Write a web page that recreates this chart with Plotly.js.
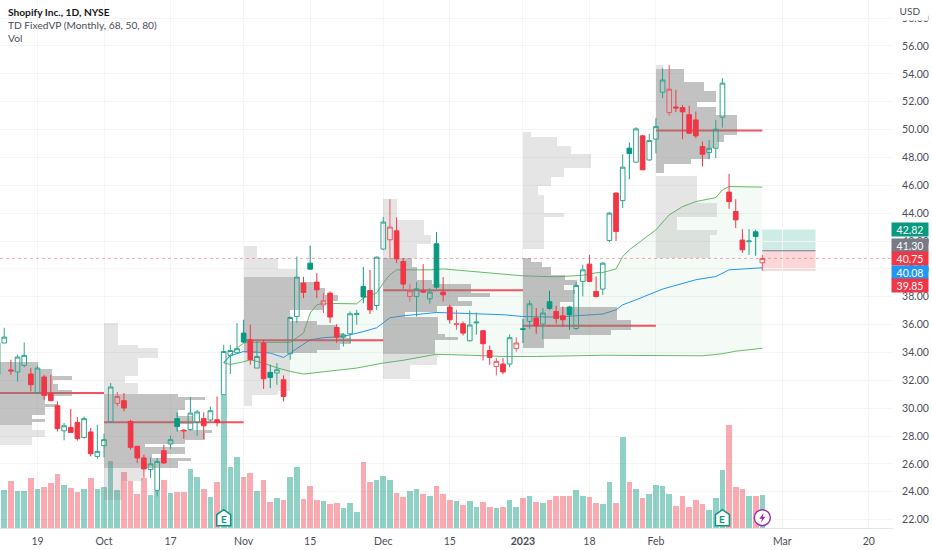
<!DOCTYPE html>
<html><head><meta charset="utf-8">
<script src="https://cdn.plot.ly/plotly-3.0.1.min.js"></script>
<style>html,body{margin:0;padding:0;background:#fff}#c{width:932px;height:550px}</style>
</head><body><div id="c"></div>
<script>
// Daily bars, first bar is six sessions before Sep 19 (bar number 0)
const firstBar = -6;
const open = [32.4,34.68,32.74,32.6,33.07,32.45,
31.09,32.24,31.04,30.18,28.38,28.62,28.98,27.9,28.29,26.54,
27.31,29.01,30.34,30.54,29.05,27.26,26.43,25.59,24.1,26.95,
27.43,29.25,28.42,28.46,28.98,29.25,29.15,29.17,30.97,33.79,
33.98,35.39,34.91,32.88,34.68,32.57,32.52,32.04,33.91,36.58,
38.98,40.41,39.05,37.42,38.26,35.79,35.1,35.34,36.72,38.74,
38.45,37.37,41.42,42.09,42.73,40.53,38.02,38.02,38.42,37.85,
41.8,38.33,37.26,36.0,36.06,34.84,36.12,35.56,34.14,33.0,
33.17,33.17,34.29,35.7,36.23,36.47,36.04,37.64,36.94,36.63,
37.26,35.72,39.1,40.34,38.38,38.55,42.04,45.44,44.9,48.66,
47.66,49.55,47.82,49.31,52.68,51.22,51.62,51.58,51.07,50.69,
48.78,48.35,48.66,50.89,45.51,44.12,42.07,41.95,42.66,40.44];
const high = [34.9,35.77,33.48,33.84,34.72,32.88,
33.05,32.4,32.4,30.49,28.94,29.94,29.37,29.41,28.58,28.81,
28.17,31.81,31.16,31.09,29.17,27.3,26.66,26.47,26.43,27.38,
28.03,29.7,28.5,30.8,29.89,29.7,30.13,30.84,34.55,34.55,
36.11,36.35,35.99,34.84,34.91,33.12,33.24,32.35,36.6,40.89,
39.43,41.68,39.7,38.26,38.38,36.04,35.39,36.94,37.06,40.13,
39.93,40.89,43.72,45.0,43.69,40.77,38.91,39.05,40.34,38.62,
42.64,39.41,37.42,37.06,36.22,37.01,36.87,35.6,34.5,33.6,
33.6,35.3,35.08,36.4,37.73,37.19,37.19,38.43,37.35,37.3,
37.35,39.05,40.29,41.01,39.45,40.48,44.07,45.5,48.23,49.07,
50.17,49.62,49.69,50.82,54.4,54.64,52.85,51.77,51.7,51.29,
49.14,49.26,50.69,53.69,46.82,45.0,42.85,42.85,42.82,41.0];
const low = [32.2,34.68,32.4,31.92,32.93,31.2,
31.09,30.6,30.49,28.33,27.69,28.22,27.67,27.81,26.54,26.38,
26.47,29.01,30.13,29.77,27.02,26.07,25.01,25.0,23.67,26.0,
27.07,28.33,27.79,28.38,28.03,27.79,29.05,28.69,30.97,32.45,
33.98,34.68,33.12,32.88,31.38,31.44,31.68,30.49,33.48,36.11,
37.9,39.93,37.9,36.83,36.11,34.68,34.43,34.68,35.99,37.54,
36.76,37.06,41.37,40.8,40.41,38.57,37.66,36.58,38.26,37.49,
38.57,37.66,36.06,35.63,35.22,34.79,35.27,33.43,33.12,32.35,
32.45,32.93,34.07,34.68,35.7,35.35,34.96,37.06,36.06,35.87,
35.63,35.6,38.02,39.05,37.95,38.14,41.92,42.0,44.36,46.44,
47.63,47.1,47.75,48.3,52.25,51.0,51.25,49.31,49.7,49.38,
47.34,47.87,47.95,50.14,44.31,42.93,41.15,41.01,40.94,39.86];
const close = [34.68,35.1,32.68,33.67,33.79,31.68,
32.88,30.92,30.54,28.53,28.74,28.26,27.81,29.25,26.73,26.9,
27.74,31.52,30.84,30.01,27.19,26.43,25.64,26.0,26.18,26.07,
27.74,28.69,28.38,29.65,29.73,28.74,29.82,28.98,34.07,34.14,
34.27,34.75,33.48,33.71,32.11,32.21,32.76,30.84,36.51,39.41,
38.31,39.98,38.5,37.71,36.54,35.1,35.27,36.78,36.8,37.98,
37.06,40.84,43.36,43.0,40.72,38.91,38.43,38.57,38.34,38.33,
38.69,38.14,36.35,36.06,35.39,35.97,36.18,34.63,33.64,33.36,
32.6,35.06,34.68,35.66,37.49,35.92,36.83,37.16,36.44,36.35,
36.71,38.81,39.93,39.1,38.02,40.41,44.0,42.68,47.3,48.28,
50.05,47.11,49.21,50.21,53.56,52.9,51.55,51.27,49.74,49.55,
48.23,48.66,50.03,53.33,44.83,43.52,41.37,42.0,42.32,40.75];
const candleTone = "GGRGGR"+"GRRRGRRGRG"+"GGRRRRRGGR"+"GGRGGRGRGG"+"GGRGRGGRGG"+"RGRRRRGGGG"+"RGGRRRRGRG"+"GRRRRGGRRR"+"RGRGGRGGRR"+"GGGRRGGRGG"+"GRGGGRRRRR"+"RGGGRRRGGR";
const volume = [190,115,142,110,110,151,
118,124,136,162,130,119,109,118,151,118,
124,200,114,169,142,103,151,99,112,143,
106,108,108,176,153,116,93,139,400,183,
214,154,164,112,144,79,89,85,154,183,
87,127,83,81,72,74,61,76,48,199,
137,145,157,145,106,93,112,118,102,95,
126,102,85,81,70,81,64,79,64,59,
64,85,64,91,95,79,76,85,97,96,
96,114,95,93,74,73,139,76,274,137,
116,91,103,129,127,103,66,97,64,83,
73,55,89,174,310,124,116,95,97,99];

// Anchored VWAP and bands: bar number and price
const upperBars = [28,29,30,31,32,38,40,41,42,43,48,49,51,52,53,54,59,61,73,78,82,84,85,87,88,89,91,93,95,97,99,102,103,104,109];
const upperBand = [33.26,33.84,34.32,34.68,34.73,34.73,35.39,36.83,37.42,37.53,37.49,37.9,38.28,38.98,39.58,39.93,39.93,40.0,39.5,39.43,39.54,39.72,39.74,40.0,40.89,41.37,42.09,42.8,43.88,44.47,44.83,45.12,45.67,45.91,45.87];
const lowerBars = [28,29,31,32,34,36,38,40,48,52,55,60,65,70,75,85,100,103,105,109];
const lowerBand = [33.26,33.14,33.33,33.48,33.23,32.9,32.64,32.45,32.88,33.24,33.44,33.87,33.8,33.71,33.71,33.8,33.76,33.91,34.09,34.3];
const vwapBars = [28,29,31,35,37,38,40,41,43,46,49,51,52,53,55,60,70,73,78,85,87,88,90,94,99,102,104,109];
const vwapLine = [33.24,33.76,34.07,33.96,33.64,33.96,34.55,34.91,35.06,35.15,35.5,35.77,36.13,36.49,36.63,36.87,36.71,36.58,36.54,36.76,37.06,37.42,37.78,38.55,39.22,39.45,39.93,40.08];

// Monthly volume profiles: row edges in price, row length in bars, D = value area, L = outside
const sepEdges = [33.31,32.81,32.28,31.99,31.76,31.28,30.90,30.32,30.08,29.53,29.22,28.98,28.76,28.46,27.90,27.33];
const sepLens = [11.0,13.2,16.2,13.4,14.1,16.2,12.2,14.0,12.2,10.2,12.2,10.2,10.2,12.2,10.2];
const sepTone = "DDDDDDDDDDDDLLL";
const octEdges = [36.11,34.55,34.32,33.60,32.28,31.81,31.04,30.80,30.56,29.84,29.41,28.89,28.46,28.22,27.74,27.45,27.19,26.71,26.43,26.18,25.71,24.75,23.43];
const octLens = [2.1,5.1,8.1,5.1,3.2,5.1,11.1,15.2,12.2,11.1,13.4,11.1,16.2,15.2,12.2,6.2,12.2,7.2,13.1,11.1,5.9,2.7];
const octTone = "LLLLLLDDDDDDDDDDDDDDLL";
const novEdges = [41.61,40.77,39.98,39.41,39.09,38.62,38.14,37.66,37.06,36.28,35.99,35.39,35.03,34.63,34.20,33.96,31.25,30.97,30.13];
const novLens = [2.0,5.1,8.0,8.5,11.0,12.2,14.2,11.9,7.0,11.0,14.0,14.9,16.1,14.5,11.0,7.0,5.2,1.2];
const novTone = "LLLDDDDDDDDDDDDLLL";
const decEdges = [45.03,43.52,42.44,41.78,40.77,40.17,39.22,38.93,38.26,37.98,37.66,37.37,36.94,36.58,35.34,35.08,34.86,33.91,33.64,33.12,32.11];
const decLens = [2.1,6.1,7.2,5.1,4.3,5.1,7.3,13.2,16.0,11.2,13.3,8.1,3.3,8.2,9.3,11.2,7.8,8.2,8.1,4.0];
const decTone = "LLLLDDDDDDDDDDDDDLLL";
const janEdges = [49.86,49.50,48.85,48.23,47.27,46.58,45.96,45.31,44.00,43.69,41.44,40.77,40.49,40.17,39.53,39.22,38.86,38.50,38.21,37.59,37.23,36.30,35.63,35.27,34.98,34.32];
const janLens = [1.2,5.1,7.2,10.2,6.2,4.2,2.2,3.2,6.2,3.2,0,1.2,2.8,4.2,6.3,8.1,6.2,7.8,7.5,5.6,14.1,16.2,13.2,7.1,3.2];
const janTone = "LLLLLLLLLLLDDDDDDDDDDDDDD";
const febEdges = [54.64,54.33,53.40,52.80,51.96,51.65,51.05,49.62,49.14,48.66,47.87,47.54,46.91,46.68,45.55,44.72,43.69,42.80,42.44,40.77];
const febLens = [1.1,4.2,7.2,9.1,6.2,9.1,12.2,10.2,9.2,8.2,5.2,1.2,0,6.1,6.2,9.2,3.1,9.2,8.2];
const febTone = "LDDDDDDDDDDDLLLLLLL";
const monthStarts = [-11,10,31,52,73,93];
const monthEnds = [10,31,52,73,93,109];
const pocPrices = [31.09,28.99,34.88,38.46,35.92,49.94];

// Axis labels
const xTickBars = [0,10,20,31,41,52,62,73,83,93,112,125];
const xTickText = ["19","Oct","17","Nov","15","Dec","15","<b>2023</b>","18","Feb","Mar","20"];
const priceTicks = [22,24,26,28,30,32,34,36,38,40,42,44,46,48,50,52,54,56,58];
const lastClose = 40.75;
const targetHigh = 42.82, targetMid = 41.30, targetLow = 39.85, vwapLast = 40.08;
const earningsBars = [28,103];
const dividendBar = 109;
const iconPrice = 22.14;

const GREEN="#089981", RED="#F23645", GREY="#787B86", BLUE="#2196F3";
const bars = open.map((_,i)=>i+firstBar);
const pick = (arr,t)=>arr.filter((_,i)=>candleTone[i]===t);
function candle(t, lineH, lineF, fill){
  return {type:'candlestick', x:pick(bars,t), open:pick(open,t), high:pick(high,t), low:pick(low,t), close:pick(close,t),
    xaxis:'x', yaxis:'y4', whiskerwidth:0, hoverinfo:'skip',
    increasing:{line:{color:lineH,width:1},fillcolor:'rgba(0,0,0,0)'},
    decreasing:{line:{color:lineF,width:1},fillcolor:fill}};
}
function profile(edges,lens,tone,start,want,color){
  const y=[],w=[],x=[];
  lens.forEach((l,i)=>{ if(tone[i]===want && l>0){ y.push((edges[i]+edges[i+1])/2); w.push(edges[i]-edges[i+1]); x.push(l);} });
  return {type:'bar',orientation:'h',x:x,y:y,width:w,base:start,xaxis:'x',yaxis:'y3',marker:{color:color,line:{width:0}},hoverinfo:'skip'};
}
const DARK='rgba(127,127,127,0.48)', LIGHT='rgba(127,127,127,0.2)';
const profs=[[sepEdges,sepLens,sepTone],[octEdges,octLens,octTone],[novEdges,novLens,novTone],[decEdges,decLens,decTone],[janEdges,janLens,janTone],[febEdges,febLens,febTone]];
const traces=[];
traces.push({type:'bar',x:bars,y:volume,width:0.85,xaxis:'x',yaxis:'y',hoverinfo:'skip',
  marker:{color:bars.map((_,i)=>close[i]>open[i]?'rgba(8,153,129,0.45)':'rgba(242,54,69,0.42)'),line:{width:0}}});
traces.push({type:'scatter',mode:'lines',x:lowerBars,y:lowerBand,xaxis:'x',yaxis:'y2',line:{color:'rgba(76,175,80,0.85)',width:1},hoverinfo:'skip'});
traces.push({type:'scatter',mode:'lines',x:upperBars,y:upperBand,xaxis:'x',yaxis:'y2',line:{color:'rgba(76,175,80,0.85)',width:1},fill:'tonexty',fillcolor:'rgba(76,175,80,0.06)',hoverinfo:'skip'});
traces.push({type:'scatter',mode:'lines',x:vwapBars,y:vwapLine,xaxis:'x',yaxis:'y2',line:{color:BLUE,width:1},hoverinfo:'skip'});
pocPrices.forEach((p,i)=>traces.push({type:'scatter',mode:'lines',x:[monthStarts[i],monthEnds[i]],y:[p,p],xaxis:'x',yaxis:'y2',line:{color:RED,width:2},opacity:0.85,hoverinfo:'skip'}));
profs.forEach((p,i)=>{traces.push(profile(p[0],p[1],p[2],monthStarts[i],'D',DARK));traces.push(profile(p[0],p[1],p[2],monthStarts[i],'L',LIGHT));});
traces.push(candle('G','#2FA590',GREEN,GREEN));
traces.push(candle('R','#EE5A68',RED,RED));

const font='Lato, "Noto Sans", sans-serif';
const head=(t,py,bold)=>({xref:'paper',yref:'paper',x:6/893,y:1-py/528,xanchor:'left',yanchor:'middle',showarrow:false,
  text:bold?'<b>'+t+'</b>':t,font:{family:font,size:10.2,color:bold?'#131722':'#4A4E59'}});
const tag=(v,col,shift)=>({xref:'paper',yref:'y4',x:1,y:v,xanchor:'left',xshift:-2,yanchor:'middle',yshift:shift,showarrow:false,
  text:v.toFixed(2),bgcolor:col,width:36,height:13,borderpad:0,font:{family:font,size:10.5,color:'#fff'}});
const annotations=[
  head('Shopify Inc., 1D, NYSE',12,true),
  head('TD FixedVP (Monthly, 68, 50, 80)',25,false),
  head('Vol',38,false),
  {xref:'paper',yref:'paper',x:1,y:1,xanchor:'left',yanchor:'top',xshift:-2,showarrow:false,text:'USD',bgcolor:'#fff',width:36,height:19,borderpad:0,font:{family:font,size:10,color:'#4A4E59'}},
  tag(targetHigh,GREEN,0),tag(targetMid,GREY,5),tag(lastClose,RED,0),tag(vwapLast,BLUE,-5),tag(targetLow,RED,-15)
];
earningsBars.forEach(b=>annotations.push({xref:'x',yref:'y4',x:b,y:iconPrice,yshift:-1,showarrow:false,text:'<b>E</b>',font:{family:font,size:10,color:GREEN}}));
const iconBase={xref:'x',yref:'y4',xsizemode:'pixel',ysizemode:'pixel',yanchor:iconPrice};
const shapes=[
  {type:'line',xref:'paper',x0:0,x1:1,yref:'y4',y0:lastClose,y1:lastClose,line:{color:'rgba(242,54,69,0.42)',width:1,dash:'dot'}},
  {type:'rect',xref:'x',yref:'y4',x0:dividendBar,x1:117,y0:targetMid,y1:targetHigh,fillcolor:'rgba(8,153,129,0.2)',line:{width:0},layer:'below'},
  {type:'rect',xref:'x',yref:'y4',x0:dividendBar,x1:117,y0:targetLow,y1:targetMid,fillcolor:'rgba(242,54,69,0.2)',line:{width:0},layer:'below'},
  {type:'line',xref:'x',yref:'y4',x0:dividendBar,x1:117,y0:targetMid,y1:targetMid,line:{color:GREY,width:1}}
];
earningsBars.forEach(b=>shapes.push(Object.assign({},iconBase,{type:'path',xanchor:b,path:'M -7 -8 L -7 3 L 0 8 L 7 3 L 7 -8 Z',fillcolor:'#fff',line:{color:GREEN,width:1.6}})));
shapes.push(Object.assign({},iconBase,{type:'circle',xanchor:dividendBar,x0:-8,x1:8,y0:-8,y1:8,fillcolor:'#fff',line:{color:'#9C27B0',width:1.4}}));
shapes.push(Object.assign({},iconBase,{type:'path',xanchor:dividendBar,path:'M 1.5 5 L -3 -1 L -0.3 -1 L -1.5 -5 L 3 1 L 0.3 1 Z',fillcolor:'#9C27B0',line:{width:0}}));

const yRange=[21.40,59.30];
const hidden={range:yRange,visible:false,overlaying:'y',fixedrange:true};
const layout={
  width:932,height:550,margin:{l:0,r:39,t:0,b:22},showlegend:false,paper_bgcolor:'#fff',plot_bgcolor:'#fff',
  barmode:'overlay',bargap:0,bargroupgap:0,boxgap:0.3,boxgroupgap:0,
  font:{family:font,size:11,color:'#131722'},
  xaxis:{range:[-5.64,128.65],tickmode:'array',tickvals:xTickBars,ticktext:xTickText,showgrid:true,gridcolor:'#F5F5F6',gridwidth:1,
    rangeslider:{visible:false},zeroline:false,showline:true,linecolor:'#E4E5E8',linewidth:1,ticks:'outside',ticklen:3,tickcolor:'rgba(0,0,0,0)',tickfont:{family:font,size:10.5,color:'#4A4E59'},fixedrange:true,anchor:'y'},
  yaxis:{range:[0,1584],visible:false,fixedrange:true},
  yaxis2:hidden,yaxis3:hidden,
  yaxis4:{range:yRange,overlaying:'y',side:'right',anchor:'x',tickmode:'array',tickvals:priceTicks,tickformat:'.2f',showgrid:true,gridcolor:'#F5F5F6',gridwidth:1,
    zeroline:false,showline:false,ticks:'outside',ticklen:6,tickcolor:'rgba(0,0,0,0)',tickfont:{family:font,size:10.5,color:'#4A4E59'},fixedrange:true},
  annotations:annotations,shapes:shapes
};
Plotly.newPlot('c',traces,layout,{displayModeBar:false,staticPlot:true});
</script></body></html>
